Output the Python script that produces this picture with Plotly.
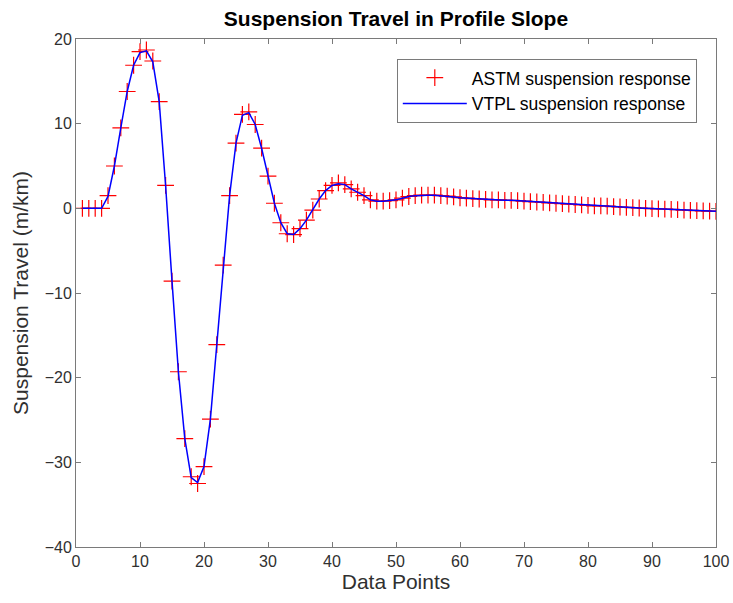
import plotly.graph_objects as go

# Data point index along the profile
points = list(range(1, 101))

# ASTM reference suspension response (m/km)
astm = [
    0.0, 0.0, 0.0, 0.0, 1.5, 5.0, 9.5, 13.8, 16.9, 18.5,
    18.7, 17.4, 12.6, 2.7, -8.6, -19.3, -27.2, -31.7, -32.5, -30.5,
    -24.9, -16.1, -6.7, 1.5, 7.7, 11.1, 11.4, 9.9, 7.1, 3.8,
    0.6, -1.7, -3.0, -3.1, -2.4, -1.4, -0.2, 1.1, 2.1, 2.7,
    3.0, 2.8, 2.3, 1.9, 1.5, 1.0, 0.85, 0.85, 0.9, 1.0,
    1.2, 1.4, 1.5, 1.55, 1.55, 1.55, 1.5, 1.45, 1.35, 1.25,
    1.2, 1.15, 1.1, 1.05, 1.0, 1.0, 0.95, 0.95, 0.9, 0.85,
    0.8, 0.75, 0.7, 0.65, 0.6, 0.55, 0.5, 0.45, 0.4, 0.35,
    0.3, 0.28, 0.25, 0.2, 0.16, 0.12, 0.08, 0.04, 0.0, -0.03,
    -0.06, -0.1, -0.13, -0.16, -0.2, -0.23, -0.26, -0.29, -0.32, -0.35,
]

# VTPL suspension response (m/km)
vtpl = [
    0.0, 0.0, 0.0, 0.0, 1.4, 5.0, 9.5, 13.8, 16.9, 18.4,
    18.6, 17.3, 12.6, 2.7, -8.6, -19.3, -27.2, -31.8, -32.4, -30.5,
    -24.9, -16.1, -6.7, 1.5, 7.7, 11.0, 11.3, 9.9, 7.1, 3.8,
    0.6, -1.7, -3.0, -3.1, -2.4, -1.4, -0.2, 1.1, 2.1, 2.7,
    2.9, 2.8, 2.3, 1.9, 1.5, 1.0, 0.85, 0.85, 0.9, 1.0,
    1.2, 1.4, 1.5, 1.55, 1.55, 1.55, 1.5, 1.45, 1.35, 1.25,
    1.2, 1.15, 1.1, 1.05, 1.0, 1.0, 0.95, 0.95, 0.9, 0.85,
    0.8, 0.75, 0.7, 0.65, 0.6, 0.55, 0.5, 0.45, 0.4, 0.35,
    0.3, 0.28, 0.25, 0.2, 0.16, 0.12, 0.08, 0.04, 0.0, -0.03,
    -0.06, -0.1, -0.13, -0.16, -0.2, -0.23, -0.26, -0.29, -0.32, -0.35,
]

x_ticks = [0, 10, 20, 30, 40, 50, 60, 70, 80, 90, 100]
y_ticks = [-40, -30, -20, -10, 0, 10, 20]

FONT = "Liberation Sans, Arial, Helvetica, sans-serif"
AXIS_COLOR = "#7a7a7a"
TEXT_COLOR = "#303030"

fig = go.Figure()
fig.add_trace(go.Scatter(
    x=points, y=astm, mode="markers", name="ASTM suspension response",
    marker=dict(symbol="cross-thin", size=12, color="red",
                line=dict(color="red", width=1.2)),
))
fig.add_trace(go.Scatter(
    x=points, y=vtpl, mode="lines", name="VTPL suspension response",
    line=dict(color="#0000ff", width=1.5),
))

axis_common = dict(
    showline=True, linecolor=AXIS_COLOR, linewidth=1, mirror="ticks",
    ticks="inside", ticklen=5, tickcolor=AXIS_COLOR, tickwidth=1,
    showgrid=False, zeroline=False, automargin=False,
    tickfont=dict(family=FONT, size=16, color=TEXT_COLOR),
)

fig.update_layout(
    width=733, height=603,
    margin=dict(l=76, r=17, t=39, b=56),
    paper_bgcolor="white", plot_bgcolor="white",
    font=dict(family=FONT, color=TEXT_COLOR),
    title=dict(text="<b>Suspension Travel in Profile Slope</b>",
               font=dict(family=FONT, size=21, color="black"),
               x=0.5, xref="paper", xanchor="center",
               y=1 - 19 / 603, yanchor="middle"),
    xaxis=dict(range=[0, 100], tickvals=x_ticks,
               title=dict(text="Data Points", standoff=4,
                          font=dict(family=FONT, size=21, color=TEXT_COLOR)),
               **axis_common),
    yaxis=dict(range=[-40, 20], tickvals=y_ticks,
               title=dict(text="Suspension Travel (m/km)", standoff=10,
                          font=dict(family=FONT, size=21, color=TEXT_COLOR)),
               **axis_common),
    legend=dict(x=0.970, y=0.961, xanchor="right", yanchor="top",
                bgcolor="white", bordercolor=AXIS_COLOR, borderwidth=1,
                font=dict(family=FONT, size=17.5, color="black"),
                itemwidth=64, tracegroupgap=0),
    showlegend=True,
)

fig.write_html("out.html")
